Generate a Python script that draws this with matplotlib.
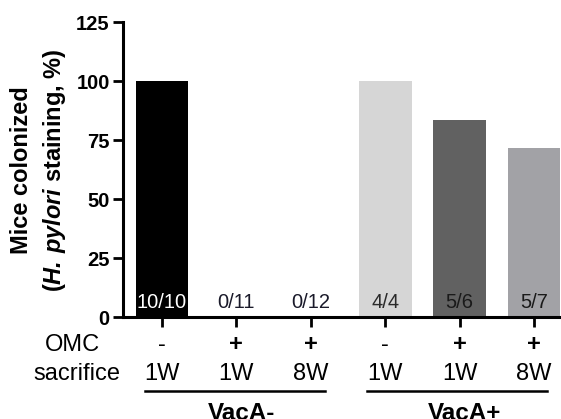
import matplotlib
matplotlib.use("Agg")
import matplotlib.pyplot as plt
from matplotlib.transforms import blended_transform_factory
from matplotlib.lines import Line2D

# ---- data ----
values = [100, 0, 0, 100, 83.3, 71.4]
counts = ["10/10", "0/11", "0/12", "4/4", "5/6", "5/7"]
omc = ["-", "+", "+", "-", "+", "+"]
sacrifice = ["1W", "1W", "8W", "1W", "1W", "8W"]
groups = ["VacA-", "VacA+"]
bar_colors = ["#000000", "#ffffff", "#ffffff", "#d6d6d6", "#616161", "#a2a2a6"]
count_colors = ["white", "#1a1a2a", "#1a1a2a", "#2a2a2a", "#1a1a1a", "#1a1a1a"]
yticks = [0, 25, 50, 75, 100, 125]

plt.rcParams["font.family"] = ["Liberation Sans", "DejaVu Sans"]
plt.rcParams["mathtext.fontset"] = "custom"
plt.rcParams["mathtext.rm"] = "Liberation Sans:bold"
plt.rcParams["mathtext.bf"] = "Liberation Sans:bold"
plt.rcParams["mathtext.it"] = "Liberation Sans:italic:bold"
plt.rcParams["mathtext.bfit"] = "Liberation Sans:italic:bold"

W, H = 561, 419
fig = plt.figure(figsize=(W / 100, H / 100), dpi=100)
ax = fig.add_axes([123 / W, 1 - 317 / H, 1 - 123 / W, (317 - 22) / H])

x = list(range(len(values)))
ax.bar(x, values, width=0.71, color=bar_colors, edgecolor="none", zorder=2)

ax.set_xlim(-0.524, 5.363)
ax.set_ylim(0, 125)
ax.set_yticks(yticks)
ax.set_yticklabels([str(t) for t in yticks], fontsize=14.5, fontweight="bold")
ax.set_xticks(x)
ax.set_xticklabels([""] * len(x))
ax.tick_params(axis="both", direction="out", length=7.5, width=2, pad=2)

for s in ["top", "right"]:
    ax.spines[s].set_visible(False)
for s in ["left", "bottom"]:
    ax.spines[s].set_linewidth(2.2)

# count labels inside bars
for xi, c, col in zip(x, counts, count_colors):
    ax.text(xi, 3.8, c, ha="center", va="baseline", fontsize=14.5, color=col, zorder=3)

bt = blended_transform_factory(ax.transData, fig.transFigure)
y_row1 = 1 - 351 / H
y_row2 = 1 - 380 / H
for xi, o, s in zip(x, omc, sacrifice):
    ax.text(xi, y_row1, o, transform=bt, ha="center", va="baseline", fontsize=17,
            fontweight="bold" if o == "+" else "normal", clip_on=False)
    ax.text(xi, y_row2, s, transform=bt, ha="center", va="baseline", fontsize=17, clip_on=False)

fig.text(72 / W, y_row1, "OMC", ha="center", va="baseline", fontsize=17)
fig.text(77 / W, y_row2, "sacrifice", ha="center", va="baseline", fontsize=17)

# group lines and labels
y_line = 1 - 391 / H
line_spans = [(-0.23, 2.19), (2.755, 5.17)]
label_x = [1.07, 4.07]
for (a, b), lx, g in zip(line_spans, label_x, groups):
    ax.add_line(Line2D([a, b], [y_line, y_line], transform=bt, color="black", lw=1.8, clip_on=False))
    ax.text(lx, 1 - 402 / H, g, transform=bt, ha="center", va="top", fontsize=17.5,
            fontweight="bold", clip_on=False)

# y label (two lines)
fig.text(22 / W, 1 - 170 / H, "Mice colonized", rotation=90, ha="center", va="center",
         fontsize=17, fontweight="bold")
fig.text(54 / W, 1 - 170 / H, r"($\mathbfit{H.\,pylori}$ staining, %)", rotation=90,
         ha="center", va="center", fontsize=17, fontweight="bold")

fig.savefig("out.png", dpi=100)
